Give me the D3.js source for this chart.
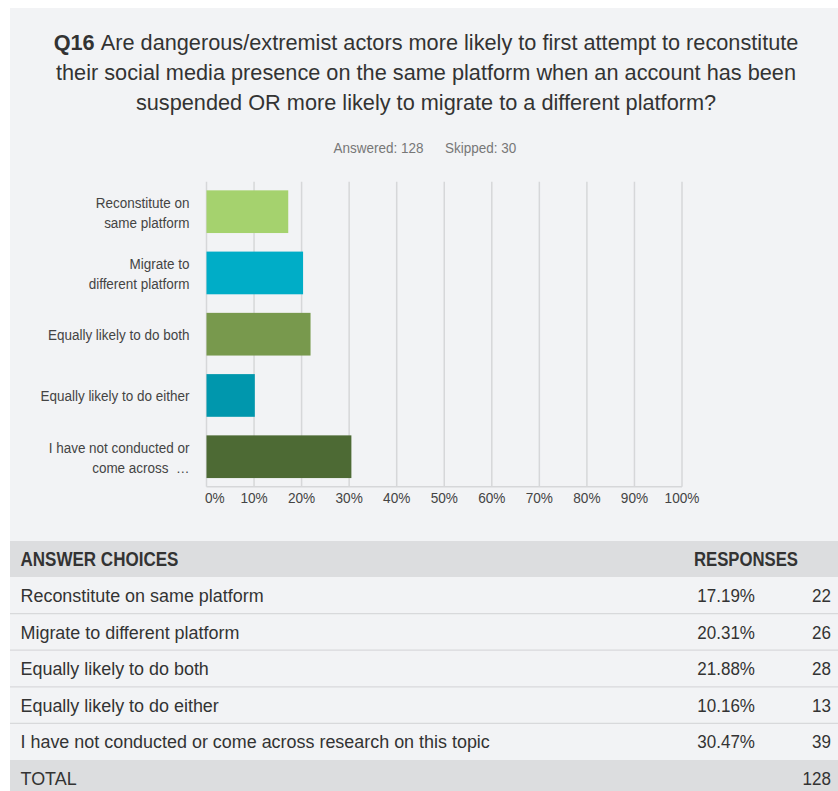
<!DOCTYPE html>
<html>
<head>
<meta charset="utf-8">
<script src="https://cdn.jsdelivr.net/npm/d3@7"></script>
<style>
  html, body { margin: 0; padding: 0; background: #ffffff; }
  svg { display: block; }
  text { font-family: "Liberation Sans", Arial, Helvetica, sans-serif; }
</style>
</head>
<body>
<script>
// Survey question and response summary
const questionNumber = "Q16";
const questionLines = [
  "Are dangerous/extremist actors more likely to first attempt to reconstitute",
  "their social media presence on the same platform when an account has been",
  "suspended OR more likely to migrate to a different platform?"
];
const answered = 128;
const skipped = 30;

const categories = [
  "Reconstitute on same platform",
  "Migrate to different platform",
  "Equally likely to do both",
  "Equally likely to do either",
  "I have not conducted or come across research on this topic"
];
const axisLabels = [
  ["Reconstitute on", "same platform"],
  ["Migrate to", "different platform"],
  ["Equally likely to do both"],
  ["Equally likely to do either"],
  ["I have not conducted or", "come across\u00a0\u00a0…"]
];
const percents = [17.19, 20.31, 21.88, 10.16, 30.47];
const counts = [22, 26, 28, 13, 39];
const total = 128;
const tickValues = [0, 10, 20, 30, 40, 50, 60, 70, 80, 90, 100];
const barColors = ["#a5d26e", "#00adc7", "#78994d", "#0097ad", "#4d6a34"];

const W = 838, H = 791;
const svg = d3.select("body").append("svg").attr("width", W).attr("height", H);

// panel background
svg.append("rect").attr("x", 10).attr("y", 8).attr("width", W - 10).attr("height", H - 8)
  .attr("fill", "#f2f3f5");

// text helper with horizontal compression
function label(g, x, y, str, opts) {
  const o = Object.assign({ size: 16, sx: 1, anchor: "start", fill: "#333", weight: "normal" }, opts || {});
  return g.append("text")
    .attr("transform", `translate(${x},${y}) scale(${o.sx},1)`)
    .attr("text-anchor", o.anchor)
    .attr("font-size", o.size)
    .attr("font-weight", o.weight)
    .attr("fill", o.fill)
    .text(str);
}

// title
const titleG = svg.append("g");
questionLines.forEach((line, i) => {
  const t = titleG.append("text")
    .attr("transform", `translate(426,${50 + i * 30}) scale(0.997,1)`)
    .attr("text-anchor", "middle")
    .attr("font-size", 21.8)
    .attr("fill", "#333");
  if (i === 0) {
    t.append("tspan").attr("font-weight", "bold").text(questionNumber + " ");
  }
  t.append("tspan").text(line);
});

// answered / skipped
label(svg, 333.5, 153.3, `Answered: ${answered}`, { size: 15, sx: 0.9, fill: "#777" });
label(svg, 445, 153.3, `Skipped: ${skipped}`, { size: 15, sx: 0.9, fill: "#777" });

// chart scales
const x = d3.scaleLinear().domain([0, 100]).range([206.5, 682]);
const y = d3.scaleBand().domain(categories).range([181.7, 486.7])
  .paddingInner(0.303).paddingOuter(0.141);

const chart = svg.append("g");

// gridlines
chart.selectAll("line.grid").data(tickValues).join("line")
  .attr("class", "grid")
  .attr("x1", d => x(d)).attr("x2", d => x(d))
  .attr("y1", 181.7).attr("y2", 486.7)
  .attr("stroke", "#d6d7d9").attr("stroke-width", 1.5);

// baseline axis
chart.append("line")
  .attr("x1", x(0)).attr("x2", x(100))
  .attr("y1", 486.7).attr("y2", 486.7)
  .attr("stroke", "#d6d7d9").attr("stroke-width", 1.5);

// bars
chart.selectAll("rect.bar").data(categories).join("rect")
  .attr("class", "bar")
  .attr("x", x(0))
  .attr("y", d => y(d))
  .attr("width", (d, i) => x(percents[i]) - x(0))
  .attr("height", y.bandwidth())
  .attr("fill", (d, i) => barColors[i]);

// category labels
categories.forEach((c, i) => {
  const cy = y(c) + y.bandwidth() / 2;
  const lines = axisLabels[i];
  lines.forEach((ln, j) => {
    const by = lines.length === 1 ? cy + 6 : cy - 3.5 + j * 20;
    label(chart, 189.5, by, ln, { size: 15.5, sx: 0.87, anchor: "end", fill: "#444" });
  });
});

// tick labels
tickValues.forEach((v, i) => {
  if (i === 0) {
    label(chart, x(v) - 1.5, 502.7, v + "%", { size: 15.3, sx: 0.89, anchor: "start", fill: "#444" });
  } else {
    label(chart, x(v), 502.7, v + "%", { size: 15.3, sx: 0.89, anchor: "middle", fill: "#444" });
  }
});

// response table
const table = svg.append("g");
const headTop = 541, headBottom = 577, rowH = (760 - 577) / 5;

table.append("rect").attr("x", 10).attr("y", headTop).attr("width", W - 10).attr("height", headBottom - headTop)
  .attr("fill", "#dcdddf");
label(table, 20.5, 566, "ANSWER CHOICES", { size: 19.8, sx: 0.86, weight: "bold", fill: "#333" });
label(table, 798, 566, "RESPONSES", { size: 19.8, sx: 0.845, weight: "bold", anchor: "end", fill: "#333" });

categories.forEach((c, i) => {
  const top = headBottom + i * rowH;
  if (i > 0) {
    table.append("line").attr("x1", 10).attr("x2", W).attr("y1", top).attr("y2", top)
      .attr("stroke", "#d8d9db").attr("stroke-width", 1.2);
  }
  const by = top + rowH / 2 + 6.6;
  label(table, 20.5, by, c, { size: 18.3, sx: 0.98 });
  label(table, 755, by, percents[i].toFixed(2) + "%", { size: 18.3, sx: 0.93, anchor: "end" });
  label(table, 831, by, counts[i], { size: 18.3, sx: 0.93, anchor: "end" });
});

const totTop = headBottom + 5 * rowH;
table.append("rect").attr("x", 10).attr("y", totTop).attr("width", W - 10).attr("height", H - totTop)
  .attr("fill", "#dcdddf");
label(table, 20.5, totTop + rowH / 2 + 6.6, "TOTAL", { size: 18.3, sx: 0.98 });
label(table, 831, totTop + rowH / 2 + 6.6, total, { size: 18.3, sx: 0.93, anchor: "end" });
</script>
</body>
</html>
